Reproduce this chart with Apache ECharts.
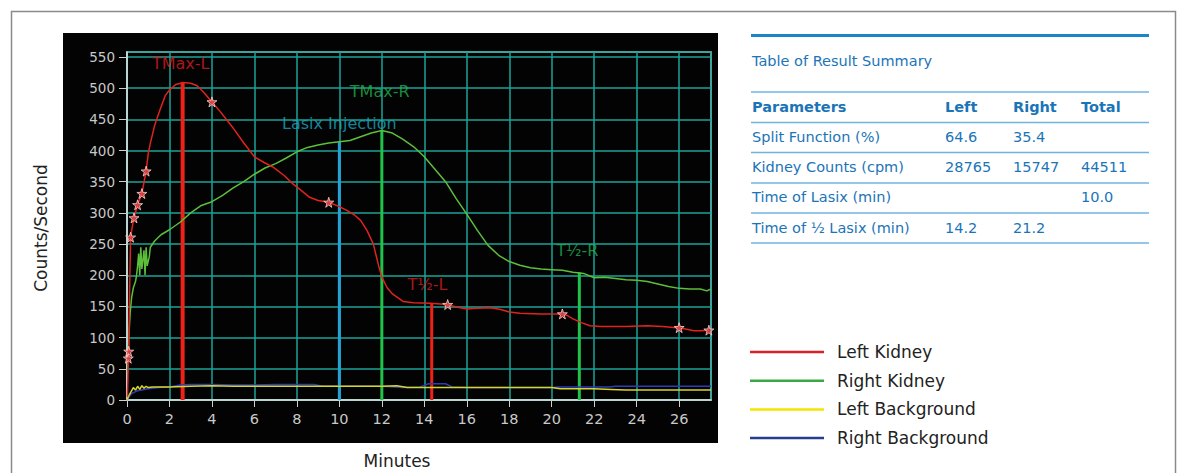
<!DOCTYPE html>
<html><head><meta charset="utf-8">
<script src="https://cdn.jsdelivr.net/npm/echarts@6/dist/echarts.min.js"></script>
<style>html,body{margin:0;padding:0;background:#fff}#c{width:1181px;height:473px}</style>
</head><body><div id="c"></div>
<script>
// ---- data (minutes, counts/second) ----
const leftKidney = [[0.02,5],[0.04,30],[0.06,67],[0.08,78],[0.12,170],[0.17,261],[0.25,278],[0.33,292],[0.5,313],[0.7,331],[0.9,367],[1.0,395],[1.1,412],[1.3,440],[1.55,465],[1.8,488],[2.0,497],[2.3,506],[2.65,509],[3.0,508],[3.3,504],[3.6,494],[4.0,478],[4.4,462],[4.7,449],[5.0,436],[5.5,412],[6.0,390],[6.5,380],[6.9,373],[7.4,360],[7.8,347],[8.2,336],[8.6,325],[9.0,320],[9.5,317],[10.0,310],[10.35,304],[10.7,297],[11.0,288],[11.3,272],[11.6,250],[11.85,215],[12.0,197],[12.25,180],[12.5,170],[13.0,158],[13.5,156],[14.3,155],[15.06,153],[15.5,149],[16.0,146],[16.5,147],[17.1,148],[17.6,145],[18.0,141],[18.5,139],[19.5,138],[20.4,138],[20.7,136],[21.0,130],[21.4,124],[21.8,119],[22.3,118],[22.9,118],[23.5,118],[24.5,119],[25.2,118],[25.9,116],[26.3,114],[26.7,111],[27.0,111],[27.4,112]];
const rightKidney = [[0.03,45],[0.1,110],[0.15,140],[0.22,165],[0.3,180],[0.4,190],[0.45,200],[0.5,215],[0.55,235],[0.6,200],[0.65,245],[0.7,210],[0.8,240],[0.85,200],[0.9,245],[0.95,215],[1.05,230],[1.1,245],[1.3,255],[1.6,265],[2.0,273],[2.5,285],[3.0,300],[3.5,312],[4.0,318],[4.5,328],[5.0,340],[5.5,350],[6.0,362],[6.5,372],[7.0,379],[7.5,388],[8.0,398],[8.5,405],[9.0,409],[9.5,412],[10.0,414],[10.5,416],[11.0,422],[11.5,428],[12.0,432],[12.5,428],[13.0,418],[13.5,406],[14.0,390],[14.5,370],[15.0,350],[15.5,323],[16.0,298],[16.5,272],[17.0,248],[17.5,232],[18.0,222],[18.5,216],[19.0,212],[19.5,210],[20.0,209],[20.5,208],[21.0,205],[21.5,203],[22.0,196],[22.5,197],[23.0,195],[23.5,193],[24.0,192],[24.5,190],[25.0,186],[25.5,182],[26.0,179],[26.5,178],[27.0,178],[27.3,175],[27.5,178]];
const leftBackground = [[0,0],[0.1,8],[0.2,14],[0.3,20],[0.4,16],[0.5,22],[0.6,17],[0.7,23],[0.8,19],[0.9,22],[1.0,20],[1.2,21],[2.0,21],[3.0,22],[4.0,23],[5.0,22],[6,22],[7,22],[8,22],[9,22],[10,22],[11,22],[12,22],[12.7,23],[13.2,20],[14,20],[15,20],[16,20],[17,20],[18,20],[19,20],[20,20],[20.4,18],[21,18],[22,18],[22.8,17],[23.5,16],[25,16],[27.5,16]];
const rightBackground = [[0,0],[0.2,10],[0.5,15],[1.0,18],[1.5,20],[2.0,21],[2.5,24],[3.0,25],[4.0,25],[5.0,24],[6.0,24],[7.0,25],[8.0,25],[8.8,25],[9.2,22],[10,22],[12,22],[13,20],[13.8,21],[14.2,26],[15.0,26],[15.3,21],[16,20],[18,20],[20,20],[20.3,21],[21,21],[22,21],[22.7,21],[23,22],[25,22],[27.5,22]];
const leftStars = [[0.06,67],[0.08,78],[0.17,261],[0.33,292],[0.5,313],[0.7,331],[0.9,367],[4.0,478],[9.5,317],[15.1,153],[20.5,138],[26.0,116],[27.4,112]];

const markerNames = ['TMax-L','Lasix Injection','TMax-R','T½-L','T½-R'];
const markerTimes = [2.62, 10.0, 12.0, 14.35, 21.3];
const markerTops = [509, 414, 432, 155, 205];
const markerLabelValues = [539, 444, 495, 186, 239];
const markerLabelTimes = [2.53, 10.0, 11.9, 14.15, 21.2];

const xTicks = [0,2,4,6,8,10,12,14,16,18,20,22,24,26];
const yTicks = [0,50,100,150,200,250,300,350,400,450,500,550];

const tableTitle = 'Table of Result Summary';
const tableHeader = ['Parameters','Left','Right','Total'];
const tableRows = [
  ['Split Function (%)','64.6','35.4',''],
  ['Kidney Counts (cpm)','28765','15747','44511'],
  ['Time of Lasix (min)','','','10.0'],
  ['Time of ½ Lasix (min)','14.2','21.2','']
];
const seriesNames = ['Left Kidney','Right Kidney','Left Background','Right Background'];

// ---- styles ----
const curveColors = ['#e0231e','#5cbf3a','#d8d52a','#2f3cb8'];
const legendColors = ['#d8232a','#3aa845','#f6e500','#263d90'];
const markerColors = ['#ee2218','#22a2d6','#1fc24a','#ee2218','#1fc24a'];
const markerLabelColors = ['#d81e1e','#1aa8c4','#1db24a','#d81e1e','#1fb058'];
const markerWidths = [4,3,3,3,3];
const blue = '#1b74b8';
const ruleColor = '#6fb3e0';
const FONT = 'DejaVu Sans';
const STAR = 'path://M50,0 L61,35 L98,35 L68,57 L79,91 L50,70 L21,91 L32,57 L2,35 L39,35 Z';

const chart = echarts.init(document.getElementById('c'), null, {renderer:'svg'});

const series = [];
// vertical marker lines
markerNames.forEach((n,i)=>{
  series.push({type:'line', name:'m'+i, data:[[markerTimes[i],0],[markerTimes[i],markerTops[i]]],
    showSymbol:false, silent:true, z:2,
    lineStyle:{color:markerColors[i], width:markerWidths[i]}});
});
// curves
const curveData = [leftKidney, rightKidney, leftBackground, rightBackground];
[3,2,1,0].forEach(i=>{
  series.push({type:'line', name:seriesNames[i], data:curveData[i], showSymbol:false, z:3,
    color:curveColors[i], lineStyle:{color:curveColors[i], width:1.5}});
});
series.push({type:'scatter', name:'stars', data:leftStars, symbol:STAR, symbolSize:10, z:4,
  itemStyle:{color:'#f04848', borderColor:'#ffd0d0', borderWidth:1}});
series.push({type:'scatter', name:'labels', symbolSize:0, z:5, silent:true,
  data: markerNames.map((n,i)=>({value:[markerLabelTimes[i], markerLabelValues[i]], name:n,
    label:{color:markerLabelColors[i]}})),
  label:{show:true, position:'inside', formatter:p=>p.name, fontFamily:FONT, fontSize:16}});

// ---- graphics: frame, black panel, table, axis titles ----
const graphics = [];
graphics.push({type:'polyline', z:-20, silent:true, shape:{points:[[11.5,473],[11.5,11.5],[1175.5,11.5],[1175.5,473]]}, style:{stroke:'#8a8a8a', lineWidth:1.5, fill:null}});
graphics.push({type:'rect', z:-10, silent:true, shape:{x:63, y:33, width:655, height:410}, style:{fill:'#030303'}});
graphics.push({type:'text', silent:true, x:40.5, y:228, rotation:Math.PI/2, style:{text:'Counts/Second', font:'17px "DejaVu Sans"', fill:'#222', align:'center', verticalAlign:'middle'}});
graphics.push({type:'text', silent:true, x:397, y:461, style:{text:'Minutes', font:'17px "DejaVu Sans"', fill:'#222', align:'center', verticalAlign:'middle'}});
// table
const tX0 = 751, tX1 = 1149;
const colX = [752, 945, 1013, 1081];
graphics.push({type:'line', silent:true, shape:{x1:tX0, y1:35.5, x2:tX1, y2:35.5}, style:{stroke:'#1a86c9', lineWidth:3}});
graphics.push({type:'text', silent:true, x:colX[0], y:61, style:{text:tableTitle, font:'14.5px "DejaVu Sans"', fill:blue, verticalAlign:'middle'}});
[92,122.5,152.5,183,213,243].forEach(y=>{
  graphics.push({type:'line', silent:true, shape:{x1:tX0, y1:y, x2:tX1, y2:y}, style:{stroke:ruleColor, lineWidth:1.5}});
});
tableHeader.forEach((t,j)=>{
  graphics.push({type:'text', silent:true, x:colX[j], y:107, style:{text:t, font:'bold 14.5px "DejaVu Sans"', fill:blue, verticalAlign:'middle'}});
});
const rowY = [137,167,197,228];
tableRows.forEach((r,i)=>{
  r.forEach((t,j)=>{
    if (!t) return;
    graphics.push({type:'text', silent:true, x:colX[j], y:rowY[i], style:{text:t, font:'14.5px "DejaVu Sans"', fill:blue, verticalAlign:'middle'}});
  });
});

chart.setOption({
  animation:false,
  backgroundColor:'#ffffff',
  grid:{left:127, top:52, width:584, height:348, show:true, borderColor:'#d9d9d9', borderWidth:1.5, backgroundColor:'transparent', containLabel:false},
  xAxis:{type:'value', min:0, max:27.5, interval:2,
    axisLine:{show:true, onZero:false, lineStyle:{color:'#e6e6e6', width:1.5}},
    axisTick:{show:true, length:7, lineStyle:{color:'#d0d0d0'}},
    axisLabel:{color:'#c9c9c9', fontFamily:FONT, fontSize:14.5, margin:11, showMaxLabel:false,
      formatter:v=> xTicks.includes(v) ? String(v) : ''},
    splitLine:{show:true, lineStyle:{color:'#1ba398', width:1.5}}},
  yAxis:{type:'value', min:0, max:558, interval:50,
    axisLine:{show:true, lineStyle:{color:'#e6e6e6', width:1.5}},
    axisTick:{show:true, length:8, lineStyle:{color:'#d0d0d0'}},
    axisLabel:{color:'#c9c9c9', fontFamily:FONT, fontSize:13.5, margin:12, showMaxLabel:false,
      formatter:v=> yTicks.includes(v) ? String(v) : ''},
    splitLine:{show:true, lineStyle:{color:'#1ba398', width:1.5}}},
  legend:{orient:'vertical', left:745, top:337, itemWidth:74, itemHeight:2.5, itemGap:8.7, icon:'rect',
    selectedMode:false,
    textStyle:{fontFamily:FONT, fontSize:17, color:'#222', lineHeight:20, padding:[0,0,0,8]},
    data: seriesNames.map((n,i)=>({name:n, icon:'rect', itemStyle:{color:legendColors[i]}}))},
  graphic:{elements:graphics},
  series: series
});
</script>
</body></html>
